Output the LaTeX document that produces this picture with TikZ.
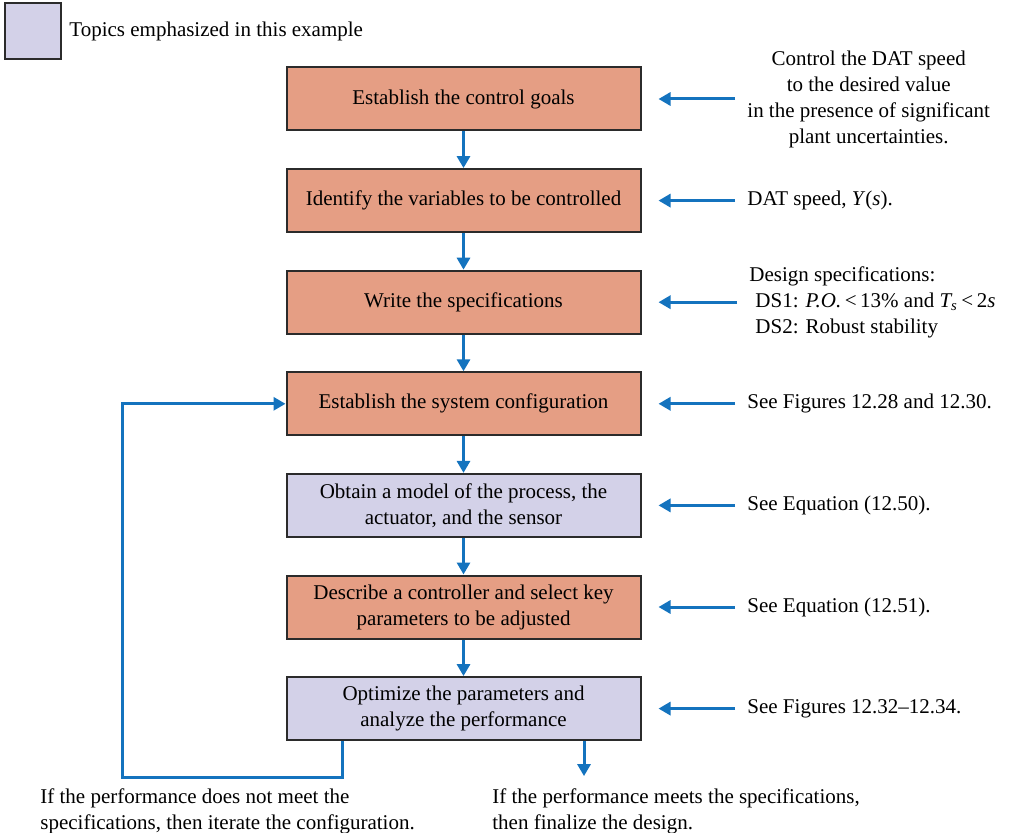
\documentclass[tikz,border=0pt]{standalone}
\usepackage{fontspec}
\setmainfont{Liberation Serif}
\usepackage{tikz}
\usetikzlibrary{arrows.meta,positioning}
\definecolor{stepfill}{HTML}{E59E84}
\definecolor{topicfill}{HTML}{D3D1E8}
\definecolor{flowblue}{HTML}{1473BE}
\definecolor{edgegray}{HTML}{2B2B2B}
\tikzset{
  stage/.style={rectangle,minimum width=177pt,minimum height=31.5pt,
    draw=edgegray,fill=#1,text=black,line width=1pt,align=center,
    font=\fontsize{10.5}{13}\selectfont,inner sep=2pt},
  stage/.default={stepfill},
  note/.style={anchor=west,inner sep=0pt,font=\fontsize{10.5}{13}\selectfont},
  arr/.style={-{Triangle[length=6pt,width=6.5pt]},line width=1.5pt,draw=flowblue},
}

\begin{document}
\begin{tikzpicture}[x=0.5pt,y=-0.5pt,node distance=18.3pt]
  \useasboundingbox (0,0) rectangle (1026,833);
  % legend
  \node[draw=edgegray,fill=topicfill,line width=1pt,minimum size=28pt,inner sep=0pt] (key) at (33,31.5) {};
  \node[note,right=3.5pt of key] (keytext) {Topics emphasized in this example};
  % design steps
  \node[stage] (goals) at (463.5,99) {Establish the control goals};
  \node[stage,below=of goals] (vars) {Identify the variables to be controlled};
  \node[stage,below=of vars] (specs) {Write the specifications};
  \node[stage,below=of specs] (config) {Establish the system configuration};
  \node[stage=topicfill,below=of config] (model) {Obtain a model of the process, the\\actuator, and the sensor};
  \node[stage,below=of model] (ctrl) {Describe a controller and select key\\parameters to be adjusted};
  \node[stage=topicfill,below=of ctrl] (optim) {Optimize the parameters and\\analyze the performance};
  % notes on the right
  \coordinate (notex) at (747,0);
  \node[note,align=center] (goalsnote) at (goals.east -| notex) {Control the DAT speed\\to the desired value\\in the presence of significant\\plant uncertainties.};
  \node[note] (varsnote) at (vars.east -| notex) {DAT speed, \textit{Y}(\textit{s}).};
  \node[note,align=left,xshift=1pt] (specsnote) at (specs.east -| notex) {Design specifications:\\
    \hspace*{3pt}DS1: \textit{P.O.}\,<\,13\% and \textit{T\textsubscript{s}}\,<\,2\textit{s}\\
    \hspace*{3pt}DS2: Robust stability};
  \node[note] (confignote) at (config.east -| notex) {See Figures 12.28 and 12.30.};
  \node[note] (modelnote) at (model.east -| notex) {See Equation (12.50).};
  \node[note] (ctrlnote) at (ctrl.east -| notex) {See Equation (12.51).};
  \node[note] (optimnote) at (optim.east -| notex) {See Figures 12.32--12.34.};
  % outcomes
  \coordinate (done) at ([xshift=60.25pt,yshift=-17.5pt]optim.south);
  \node[note,anchor=north west,align=left] (iterate) at (40,788) {If the performance does not meet the\\specifications, then iterate the configuration.};
  \node[note,anchor=north west,align=left] (finish) at (492,788) {If the performance meets the specifications,\\then finalize the design.};
  % flow
  \draw[arr] (goals) -- (vars);
  \draw[arr] (vars) -- (specs);
  \draw[arr] (specs) -- (config);
  \draw[arr] (config) -- (model);
  \draw[arr] (model) -- (ctrl);
  \draw[arr] (ctrl) -- (optim);
  \draw[arr] ([xshift=60.25pt]optim.south) -- (done);
  \draw[arr] ([xshift=-60.75pt]optim.south) -- ++(0,-18pt) -| ([xshift=-81.5pt]config.west) -- (config.west);
  \foreach \s in {goals,vars,specs,config,model,ctrl,optim}
    \draw[arr,shorten >=8.5pt,shorten <=6pt] (\s note) -- (\s);
\end{tikzpicture}
\end{document}
